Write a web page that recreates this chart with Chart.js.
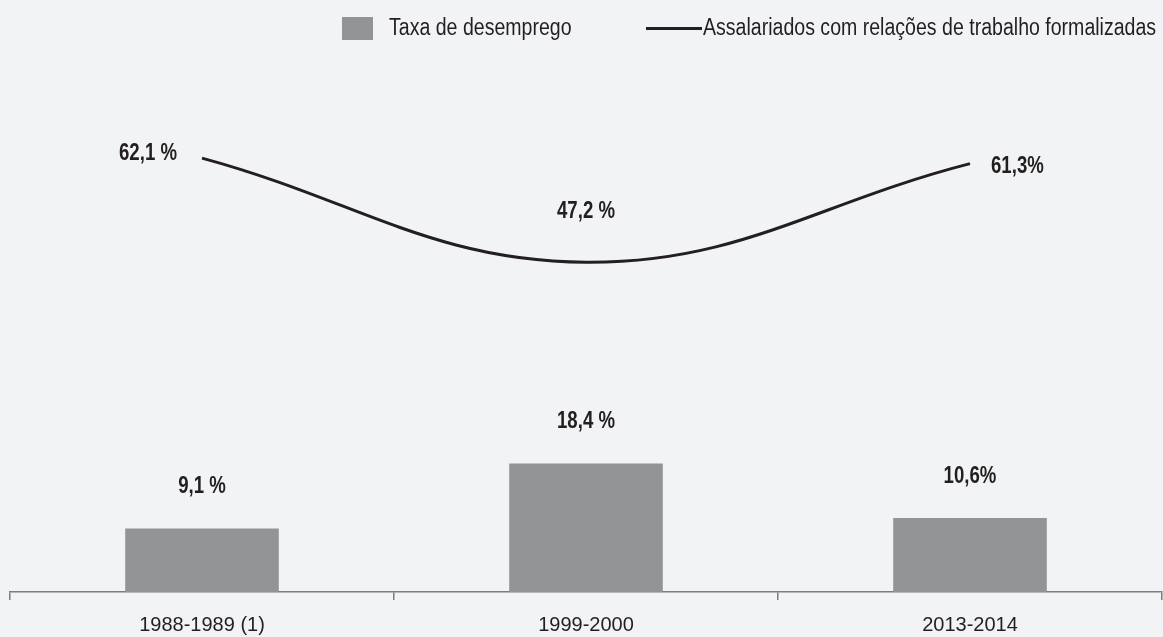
<!DOCTYPE html>
<html lang="pt">
<head>
<meta charset="utf-8">
<title>Taxa de desemprego e assalariados formalizados</title>
<script src="https://cdn.jsdelivr.net/npm/chart.js@4.4.1/dist/chart.umd.min.js"></script>
<style>
  html, body {
    margin: 0;
    padding: 0;
    background: #f2f3f5;
  }
  .wrap {
    position: relative;
    width: 1163px;
    height: 637px;
    overflow: hidden;
    font-family: "Liberation Sans", Arial, sans-serif;
    color: #231f20;
  }
  .legend-item {
    position: absolute;
    top: 16px;
    font-size: 23px;
    line-height: 23px;
    white-space: nowrap;
    transform: scaleX(0.85);
    transform-origin: left center;
  }
  .legend-box {
    position: absolute;
    left: 342px;
    top: 17px;
    width: 31px;
    height: 23px;
    background: #939496;
  }
  .legend-line {
    position: absolute;
    left: 646px;
    top: 27px;
    width: 56px;
    height: 3px;
    background: #231f20;
  }
  canvas {
    position: absolute;
    left: 0;
    top: 0;
  }
</style>
</head>
<body>
<div class="wrap">
  <!-- canvas runs a little past the bottom edge so the axis sits where it should -->
  <canvas id="chart" width="1163" height="650"></canvas>
  <div class="legend-box"></div>
  <div class="legend-item" style="left: 389px;">Taxa de desemprego</div>
  <div class="legend-line"></div>
  <div class="legend-item" style="left: 703px;">Assalariados com relações de trabalho formalizadas</div>
</div>
<script>
const categories = ["1988-1989 (1)", "1999-2000", "2013-2014"];
const unemploymentRate = [9.1, 18.4, 10.6];
const unemploymentLabels = ["9,1 %", "18,4 %", "10,6%"];
const formalizedShare = [62.1, 47.2, 61.3];
const formalizedLabels = ["62,1 %", "47,2 %", "61,3%"];

const FONT_FAMILY = "'Liberation Sans', Arial, sans-serif";
const TEXT_COLOR = "#231f20";
const BAR_COLOR = "#939496";
const AXIS_COLOR = "#7d7d7d";
// the original uses a narrow face; squeeze the regular one to fake it
const NARROW = 0.81;

function drawNarrowText(ctx, text, x, y, align) {
  ctx.save();
  ctx.translate(x, y);
  ctx.scale(NARROW, 1);
  ctx.textAlign = align;
  ctx.fillText(text, 0, 0);
  ctx.restore();
}

// Value labels: bars get theirs above, the line gets left / above / right.
const valueLabelsPlugin = {
  id: "valueLabels",
  afterDatasetsDraw(chart) {
    const { ctx } = chart;
    ctx.save();
    ctx.font = `bold 23px ${FONT_FAMILY}`;
    ctx.fillStyle = TEXT_COLOR;
    ctx.textBaseline = "alphabetic";

    chart.getDatasetMeta(1).data.forEach((bar, index) => {
      drawNarrowText(ctx, unemploymentLabels[index], bar.x, bar.y - 35, "center");
    });

    const points = chart.getDatasetMeta(0).data;
    points.forEach((point, index) => {
      if (index === 0) {
        drawNarrowText(ctx, formalizedLabels[index], point.x - 25, point.y + 2, "right");
      } else if (index === points.length - 1) {
        drawNarrowText(ctx, formalizedLabels[index], point.x + 21, point.y + 9, "left");
      } else {
        drawNarrowText(ctx, formalizedLabels[index], point.x, point.y - 44, "center");
      }
    });
    ctx.restore();
  }
};

const chart = new Chart(document.getElementById("chart"), {
  type: "bar",
  data: {
    labels: categories,
    datasets: [
      {
        type: "line",
        label: "Assalariados com relações de trabalho formalizadas",
        data: formalizedShare,
        borderColor: TEXT_COLOR,
        borderWidth: 3,
        tension: 0.4,
        pointRadius: 0,
        fill: false,
        order: 0
      },
      {
        type: "bar",
        label: "Taxa de desemprego",
        data: unemploymentRate,
        backgroundColor: BAR_COLOR,
        borderWidth: 0,
        categoryPercentage: 1,
        barPercentage: 0.4,
        order: 1
      }
    ]
  },
  options: {
    responsive: false,
    animation: false,
    layout: {
      padding: { top: 33, left: 10, right: 1, bottom: 0 }
    },
    plugins: {
      legend: { display: false },
      tooltip: { enabled: false }
    },
    scales: {
      x: {
        offset: true,
        grid: {
          offset: true,
          drawOnChartArea: false,
          drawTicks: true,
          tickLength: 8,
          color: AXIS_COLOR,
          lineWidth: 1.5
        },
        border: { display: true, color: AXIS_COLOR, width: 1.5 },
        ticks: {
          color: TEXT_COLOR,
          padding: 20,
          font: { family: FONT_FAMILY, size: 20, lineHeight: 0.5 }
        }
      },
      y: {
        display: false,
        min: 0,
        max: 80
      }
    }
  },
  plugins: [valueLabelsPlugin]
});
</script>
</body>
</html>
